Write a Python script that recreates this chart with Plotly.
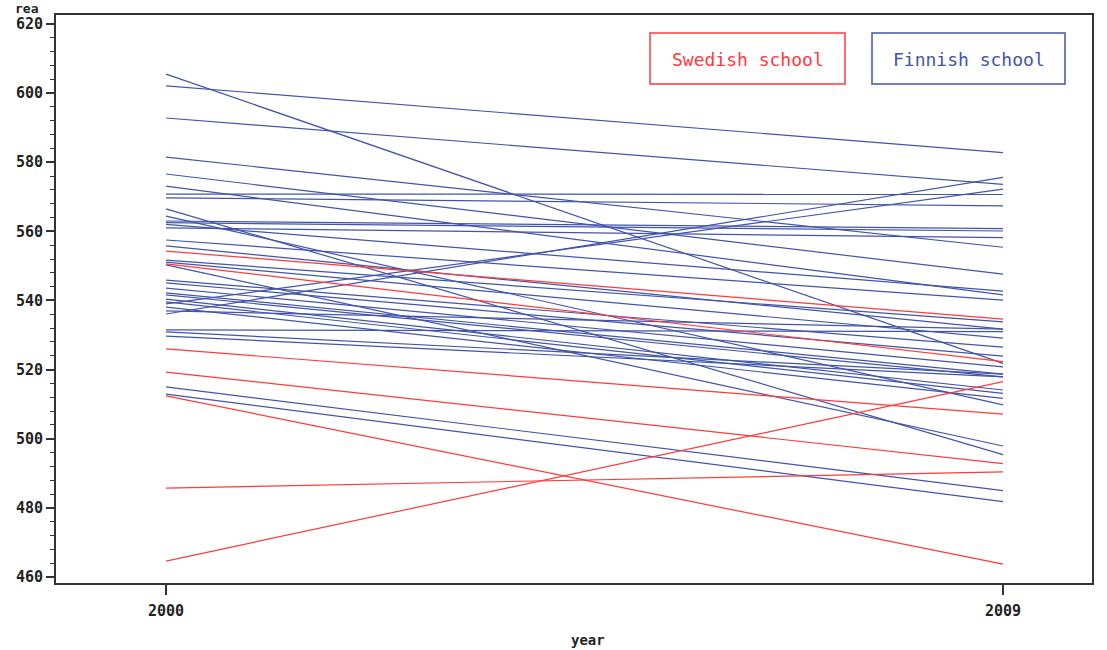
import plotly.graph_objects as go

years = [2000, 2009]

# Swedish-language schools: reading score in 2000 and 2009
swedish_2000 = [554.3, 550.6, 526.0, 519.3, 512.4, 485.7, 464.6]
swedish_2009 = [534.6, 522.3, 507.1, 492.8, 463.7, 490.4, 516.5]

# Finnish-language schools: reading score in 2000 and 2009
finnish_2000 = [605.5, 602.1, 592.8, 581.5, 576.6, 573.1, 570.8, 569.7, 566.5, 564.4,
                563.0, 562.5, 562.0, 561.0, 557.5, 555.8, 551.7, 551.1, 550.3, 545.9,
                545.1, 543.6, 542.2, 541.6, 540.4, 539.6, 539.0, 538.1, 537.0, 536.1,
                531.5, 530.9, 529.7, 515.0, 512.9]
finnish_2009 = [521.8, 582.8, 573.6, 555.4, 547.6, 541.6, 570.7, 567.4, 495.4, 509.8,
                560.8, 560.1, 542.7, 558.2, 540.1, 531.7, 533.8, 529.1, 497.9, 526.5,
                523.9, 520.8, 518.7, 517.9, 514.1, 513.1, 572.2, 511.7, 531.7, 575.6,
                531.0, 518.7, 517.9, 485.0, 481.8]

y_ticks = [460, 480, 500, 520, 540, 560, 580, 600, 620]
x_ticks = [2000, 2009]

RED = "#FF3A3A"
BLUE = "#4254AA"

fig = go.Figure()
for a, b in zip(finnish_2000, finnish_2009):
    fig.add_trace(go.Scatter(x=years, y=[a, b], mode="lines",
                             line=dict(color=BLUE, width=1.2), showlegend=False,
                             hoverinfo="skip"))
for a, b in zip(swedish_2000, swedish_2009):
    fig.add_trace(go.Scatter(x=years, y=[a, b], mode="lines",
                             line=dict(color=RED, width=1.2), showlegend=False,
                             hoverinfo="skip"))

W, H = 1107, 650
L, R, T, B = 56, 1092, 15, 583  # screen pixels of the plot frame
pw, ph = R - L, B - T


def px(x):
    return (x - L) / pw


def py(y):
    return (B - y) / ph


tickfont = dict(family="DejaVu Sans Mono", size=15, color="#222", weight="bold")

fig.update_layout(
    width=W, height=H,
    margin=dict(l=L, r=W - R, t=T, b=H - B),
    paper_bgcolor="white", plot_bgcolor="white",
    xaxis=dict(range=[1998.817, 2009.957], tickvals=x_ticks, ticktext=[str(v) for v in x_ticks],
               showgrid=False, zeroline=False, showline=True, linecolor="#333", linewidth=2,
               mirror=True, ticks="outside", ticklen=10, tickwidth=1.5, tickcolor="#333",
               tickfont=tickfont, ticklabelstandoff=3),
    yaxis=dict(range=[458.26, 622.6], tickvals=y_ticks, ticktext=[str(v) for v in y_ticks],
               showgrid=False, zeroline=False, showline=True, linecolor="#333", linewidth=2,
               mirror=True, ticks="outside", ticklen=8, tickwidth=1.5, tickcolor="#333",
               tickfont=tickfont,
               minor=dict(dtick=4, ticks="outside", ticklen=4, tickcolor="#333", tickwidth=1)),
    font=dict(family="DejaVu Sans Mono"),
)

# axis titles
fig.add_annotation(text="rea", xref="paper", yref="paper", x=px(27), y=py(8),
                   xanchor="center", yanchor="middle",
                   showarrow=False, font=dict(family="DejaVu Sans Mono", size=13, color="#222", weight="bold"))
fig.add_annotation(text="year", xref="paper", yref="paper", x=px(588), y=py(650),
                   xanchor="center", yanchor="bottom",
                   showarrow=False, font=dict(family="DejaVu Sans Mono", size=14, color="#222", weight="bold"))

# legend boxes
boxes = [("Swedish school", RED, 650, 845), ("Finnish school", BLUE, 872, 1065)]
for label, col, x0, x1 in boxes:
    fig.add_shape(type="rect", xref="paper", yref="paper", x0=px(x0), x1=px(x1),
                  y0=py(84), y1=py(33), line=dict(color=col, width=1.5), fillcolor="white")
    fig.add_annotation(text=label, xref="paper", yref="paper", x=px((x0 + x1) / 2), y=py(60),
                       xanchor="center", yanchor="middle",
                       showarrow=False, font=dict(family="DejaVu Sans Mono", size=18, color=col))

fig.write_html("out.html", config={"displayModeBar": False},
               post_script="document.body.style.margin='0';")
